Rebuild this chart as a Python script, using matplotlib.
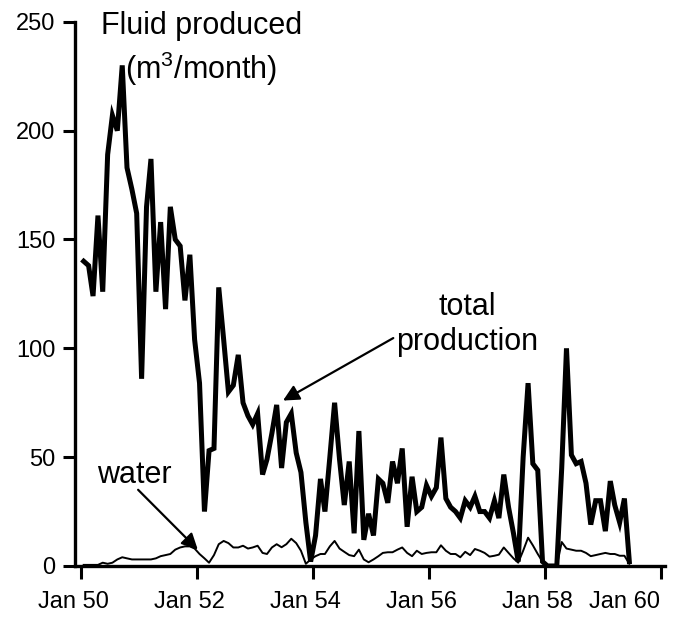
import matplotlib
matplotlib.use("Agg")
import matplotlib.pyplot as plt
import matplotlib.dates as mdates
import matplotlib.transforms as mtransforms
import pandas as pd

plt.rcParams['font.family'] = ['Liberation Sans', 'DejaVu Sans']
plt.rcParams['mathtext.fontset'] = 'custom'
plt.rcParams['mathtext.rm'] = 'Liberation Sans'

# monthly fluid produced, m3/month, Jan 1950 onwards
total = [140, 138, 124, 161, 126, 189, 207, 200, 230, 183,
         173, 162, 86, 165, 187, 126, 158, 118, 165, 150,
         147, 122, 143, 104, 84, 25, 53, 54, 128, 104,
         80, 83, 97, 75, 69, 65, 70, 42, 49, 61,
         74, 45, 66, 70, 52, 43, 20, 2, 14, 40,
         25, 50, 75, 49, 28, 48, 15, 62, 12, 24,
         14, 40, 38, 29, 48, 38, 54, 18, 41, 25,
         27, 37, 32, 36, 59, 31, 27, 25, 22, 30,
         27, 32, 25, 25, 22, 30, 22, 42, 27, 15,
         2, 50, 84, 47, 44, 2, 0, 0, 0, 45,
         100, 51, 47, 48, 38, 19, 30, 30, 16, 39,
         28, 20, 31, 2]

water = [0.5, 0.5, 0.5, 0.5, 1.5, 1, 1.5, 3, 4, 3.5,
         3, 3, 3, 3, 3, 3.5, 4.5, 5, 5.5, 7.5,
         8.5, 9, 9, 8, 5.5, 3.5, 1.5, 5, 10, 11.5,
         10.5, 8.5, 8.5, 9.3, 8, 8.5, 9.3, 6, 5.5, 8.5,
         10, 8.6, 10, 12.5, 10.5, 7, 1, 3, 4.5, 5.5,
         5.5, 9, 11.5, 8, 6.5, 5, 4.5, 7.5, 3, 1.7,
         3, 4.5, 6, 6.3, 6.3, 7.5, 8.5, 6, 4.5, 7,
         5.5, 6, 6.3, 6.3, 9.5, 7, 5.5, 5.5, 4, 6.5,
         5, 7.8, 7, 6, 4.3, 4.7, 5.2, 8.5, 6, 3.5,
         1.5, 7, 13, 9.5, 5.5, 2, 0, 0, 0, 11,
         8, 7.5, 7, 7, 6, 4.5, 5, 5.5, 6, 5.5,
         5.5, 4.7, 4.7, 1]

months = pd.date_range("1950-01-01", periods=len(total), freq="MS") + pd.Timedelta(days=15)
tick_dates = pd.date_range("1950-01-01", "1960-01-01", freq="24MS")
y_ticks = [0, 50, 100, 150, 200, 250]

fig = plt.figure(figsize=(6.89, 6.24), dpi=100)
ax = fig.add_axes([0.109, 0.093, 0.856, 0.872])

ax.plot(months, water, color='black', lw=1.4)
ax.plot(months, total, color='black', lw=3.6, solid_joinstyle='miter')

ax.set_xlim(pd.Timestamp("1949-11-23"), pd.Timestamp("1960-01-26"))
ax.set_ylim(0, 250)
ax.set_xticks(tick_dates)
ax.xaxis.set_major_formatter(mdates.DateFormatter("Jan %y"))
ax.set_yticks(y_ticks)

for side in ['top', 'right']:
    ax.spines[side].set_visible(False)
for side in ['left', 'bottom']:
    ax.spines[side].set_linewidth(2.4)
ax.tick_params(axis='both', direction='out', length=9, width=2.2, labelsize=17)
ax.tick_params(axis='x', pad=9)
ax.tick_params(axis='y', pad=5)

# labels sit a little left of their ticks, the last one pulled in
labels = ax.get_xticklabels()
for i, lab in enumerate(labels):
    dx = -36 if i == len(labels) - 1 else -8
    lab.set_transform(lab.get_transform() +
                      mtransforms.ScaledTranslation(dx / 100, 0, fig.dpi_scale_trans))

ax.text(0.2136, 1.02, "Fluid produced\n(m$^{3}$/month)", transform=ax.transAxes,
        ha='center', va='top', fontsize=22, linespacing=1.3, clip_on=False)

ax.annotate("total\nproduction", xy=(pd.Timestamp("1953-06-25"), 76),
            xytext=(pd.Timestamp("1956-08-28"), 111),
            ha='center', va='center', fontsize=22, linespacing=1.2,
            arrowprops=dict(arrowstyle='-|>', color='black', lw=1.6,
                            mutation_scale=24, shrinkA=0, shrinkB=0,
                            relpos=(-0.01, 0.3)))

ax.annotate("", xy=(pd.Timestamp("1952-01-05"), 7.5),
            xytext=(pd.Timestamp("1950-12-25"), 35),
            arrowprops=dict(arrowstyle='-|>', color='black', lw=1.6,
                            mutation_scale=24, shrinkA=0, shrinkB=0))
ax.text(pd.Timestamp("1950-12-01"), 42, "water", ha='center', va='center', fontsize=22)

fig.savefig("out.png", dpi=100)
